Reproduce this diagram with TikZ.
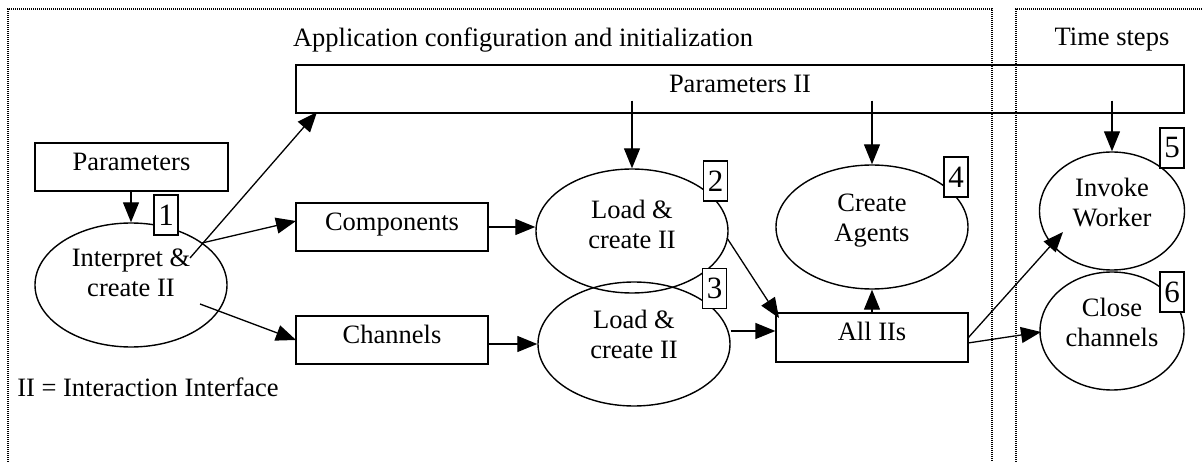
\documentclass[tikz,border=0pt]{standalone}
\usepackage{fontspec}
\setmainfont{Liberation Serif}
\usetikzlibrary{shapes.geometric,arrows.meta}
\begin{document}
\begin{tikzpicture}[x=1pt,y=-1pt,
  every node/.style={font=\fontsize{26.5pt}{30pt}\selectfont},
  box/.style={draw, line width=1.3pt, minimum width=#1, minimum height=48pt,
    inner sep=0pt, text height=19pt, text depth=12pt},
  ell/.style={draw, ellipse, line width=1.4pt, inner sep=0pt},
  etext/.style={align=center, inner sep=0pt},
  numbox/.style={draw, fill=white, line width=1.3pt, minimum width=24pt,
    minimum height=40pt, inner sep=0pt, font=\fontsize{31pt}{31pt}\selectfont},
  arr/.style={line width=1.3pt, -{Triangle[length=20pt,width=16pt]}},
  frame/.style={line width=1.1pt, dash pattern=on 1pt off 1pt},
  lbl/.style={inner sep=0pt}
]
\useasboundingbox (0,0) rectangle (1203,462);
% frames
\draw[frame] (8,462) -- (8,9) -- (992,9) -- (992,462);
\draw[frame] (1016,462) -- (1016,9) -- (1203,9);
\node[lbl] (apptitle) at (523,40) {Application configuration and initialization};
\node[lbl] (timetitle) at (1112,40) {Time steps};
% boxes
\node[box=888pt] (pii) at (740,89) {Parameters II};
\node[box=193pt] (params) at (131.5,167) {Parameters};
\node[box=192pt] (comp) at (392,227) {Components};
\node[box=192pt] (chan) at (392,340) {Channels};
\node[box=192pt, minimum height=49pt] (all) at (872,337.5) {All IIs};
% ellipses
\node[ell, minimum width=192pt, minimum height=124pt] (e1) at (131,285) {};
\node[ell, minimum width=192pt, minimum height=124pt] (e2) at (632,231) {};
\node[ell, minimum width=192pt, minimum height=124pt] (e3) at (634,344) {};
\node[ell, minimum width=192pt, minimum height=124pt] (e4) at (872,227) {};
\node[ell, minimum width=145pt, minimum height=118pt] (e5) at (1112,211) {};
\node[ell, minimum width=144pt, minimum height=118pt] (e6) at (1112,331) {};
\node[etext] (e1t) at (131,273) {Interpret \&\\create II};
\node[etext] (e2t) at (632,224) {Load \&\\create II};
\node[etext] (e3t) at (634,334) {Load \&\\create II};
\node[etext] (e4t) at (872,221) {Create\\Agents};
\node[etext] (e5t) at (1112,203) {Invoke\\Worker};
\node[etext] (e6t) at (1112,322) {Close\\channels};
% number labels
\node[numbox] (n1) at (166,215) {1};
\node[numbox] (n2) at (715.5,181) {2};
\node[numbox] (n3) at (714.5,288.5) {3};
\node[numbox] (n4) at (956,177) {4};
\node[numbox] (n5) at (1172,148) {5};
\node[numbox] (n6) at (1172,292) {6};
\node[lbl] (legend) at (148,387) {II = Interaction Interface};
% connector end points
\coordinate (s1) at (190,258);
\coordinate (t1) at (317,112);
\coordinate (s2) at (202,243);
\coordinate (t2) at (296,221);
\coordinate (s3) at (200,304);
\coordinate (t3) at (296,340);
\coordinate (s4) at (727,238);
\coordinate (t4) at (779,318);
\coordinate (s5) at (968,338);
\coordinate (t5) at (1063,232);
\coordinate (s6) at (968,343);
\coordinate (t6) at (1041,332);
% connectors
\draw[arr] (params.south -| e1.north) -- (e1.north);
\draw[arr] (s1) -- (t1);
\draw[arr] (s2) -- (t2);
\draw[arr] (s3) -- (t3);
\draw[arr] (comp.east) -- (e2.west |- comp.east);
\draw[arr] (chan.east |- e3.west) -- (e3.west);
\draw[arr] ([yshift=13pt]pii.south -| e2.north) -- (e2.north);
\draw[arr] ([yshift=13pt]pii.south -| e4.north) -- (e4.north);
\draw[arr] ([yshift=13pt]pii.south -| e5.north) -- (e5.north);
\draw[arr] (e3.east |- 0,331) -- (all.west |- 0,331);
\draw[arr] (s4) -- (t4);
\draw[arr] (all.north) -- (e4.south);
\draw[arr] (s5) -- (t5);
\draw[arr] (s6) -- (t6);
\end{tikzpicture}
\end{document}
